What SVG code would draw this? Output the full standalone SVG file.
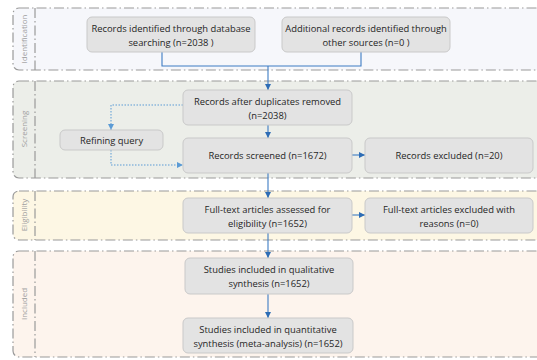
<svg xmlns="http://www.w3.org/2000/svg" width="537" height="360" viewBox="0 0 537 360">
<style>
.band{stroke:#9a9a9a;stroke-width:1.2;stroke-dasharray:10 3 1.5 3;}
.div{stroke:#9a9a9a;stroke-width:1.2;stroke-dasharray:10 3 1.5 3;fill:none;}
.box{fill:#e3e3e3;stroke:#c9c9c9;stroke-width:1;}
.t{font-family:"Open Sans","Liberation Sans",sans-serif;font-size:9.4px;fill:#262626;text-anchor:middle;}
.lbl{font-family:"Open Sans","Liberation Sans",sans-serif;font-size:8px;fill:#a0a0a0;text-anchor:middle;}
.c{stroke:#3d7cc4;stroke-width:1.1;fill:none;}
.d{stroke:#5b9bd5;stroke-width:1;stroke-dasharray:1.5 1.5;fill:none;}
</style>
<defs>
<marker id="ah" viewBox="0 0 6 6" refX="6" refY="3" markerWidth="6" markerHeight="6" markerUnits="userSpaceOnUse" orient="auto"><path d="M0,0L6,3L0,6z" fill="#2e6db5"/></marker>
<marker id="ahd" viewBox="0 0 6 6" refX="6" refY="3" markerWidth="6" markerHeight="6" markerUnits="userSpaceOnUse" orient="auto"><path d="M0,0L6,3L0,6z" fill="#5b9bd5"/></marker>
</defs>
<rect width="537" height="360" fill="#ffffff"/>
<g id="bands">
<rect class="band" x="13" y="8" width="540" height="62" rx="6" fill="#f6f7fb"/>
<line class="div" x1="35" y1="8" x2="35" y2="70"/>
<text class="lbl" transform="translate(27,39) rotate(-90)">Identification</text>
<rect class="band" x="13" y="81" width="540" height="97" rx="6" fill="#eceee9"/>
<line class="div" x1="35" y1="81" x2="35" y2="178"/>
<text class="lbl" transform="translate(27,129) rotate(-90)">Screening</text>
<rect class="band" x="13" y="191" width="540" height="49" rx="6" fill="#fdf7e4"/>
<line class="div" x1="35" y1="191" x2="35" y2="240"/>
<text class="lbl" transform="translate(27,215) rotate(-90)">Eligibility</text>
<rect class="band" x="13" y="251" width="540" height="106" rx="6" fill="#fdf4ed"/>
<line class="div" x1="35" y1="251" x2="35" y2="357"/>
<text class="lbl" transform="translate(27,304) rotate(-90)">Included</text>
</g>
<g id="connectors">
<path class="c" d="M162,52V66H361V52"/>
<path class="c" d="M268,66V90" marker-end="url(#ah)"/>
<path class="c" d="M268,125V138" marker-end="url(#ah)"/>
<path class="c" d="M268,173V198" marker-end="url(#ah)"/>
<path class="c" d="M268,233V258" marker-end="url(#ah)"/>
<path class="c" d="M268,294V318" marker-end="url(#ah)"/>
<path class="c" d="M352,155H365" marker-end="url(#ah)"/>
<path class="c" d="M352,215H365" marker-end="url(#ah)"/>
<path class="d" d="M183,105H111V130" marker-end="url(#ahd)"/>
<path class="d" d="M111,150V165H183" marker-end="url(#ahd)"/>
</g>
<g id="n1"><rect class="box" x="87" y="17" width="168" height="35" rx="5"/><text class="t" x="171" y="31.5">Records identified through database</text><text class="t" x="171" y="45.5">searching (n=2038 )</text></g>
<g id="n2"><rect class="box" x="282" y="17" width="168" height="35" rx="5"/><text class="t" x="366" y="31.5">Additional records identified through</text><text class="t" x="366" y="45.5">other sources (n=0 )</text></g>
<g id="n3"><rect class="box" x="183" y="90" width="169" height="35" rx="5"/><text class="t" x="267.5" y="104.5">Records after duplicates removed</text><text class="t" x="267.5" y="118.5">(n=2038)</text></g>
<g id="n4"><rect class="box" x="60" y="130" width="103" height="20" rx="5"/><text class="t" x="111.5" y="143.5">Refining query</text></g>
<g id="n5"><rect class="box" x="183" y="138" width="169" height="35" rx="5"/><text class="t" x="267.5" y="158.5">Records screened (n=1672)</text></g>
<g id="n6"><rect class="box" x="365" y="138" width="168" height="35" rx="5"/><text class="t" x="449" y="158.5">Records excluded (n=20)</text></g>
<g id="n7"><rect class="box" x="183" y="198" width="169" height="35" rx="5"/><text class="t" x="267.5" y="212.5">Full-text articles assessed for</text><text class="t" x="267.5" y="226.5">eligibility (n=1652)</text></g>
<g id="n8"><rect class="box" x="365" y="198" width="168" height="35" rx="5"/><text class="t" x="449" y="212.5">Full-text articles excluded with</text><text class="t" x="449" y="226.5">reasons (n=0)</text></g>
<g id="n9"><rect class="box" x="185" y="258" width="168" height="36" rx="5"/><text class="t" x="269" y="272.5">Studies included in qualitative</text><text class="t" x="269" y="286.5">synthesis (n=1652)</text></g>
<g id="n10"><rect class="box" x="183" y="318" width="170" height="35" rx="5"/><text class="t" x="268" y="332.5">Studies included in quantitative</text><text class="t" x="268" y="346.5">synthesis (meta-analysis) (n=1652)</text></g>
</svg>
